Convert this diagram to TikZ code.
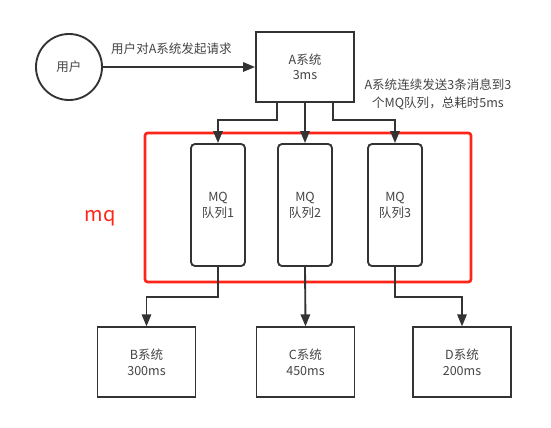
\documentclass[tikz,border=0pt]{standalone}
\usepackage{fontspec}
\newfontfamily\cjk{Noto Sans CJK SC}
\usetikzlibrary{arrows.meta}
\definecolor{linegray}{HTML}{333333}
\definecolor{textgray}{HTML}{444444}
\definecolor{mqred}{HTML}{FF2418}

\begin{document}
\begin{tikzpicture}[x=0.75pt,y=-0.75pt,
  every node/.style={font=\cjk\fontsize{9.4}{12}\selectfont, text=textgray},
  sysbox/.style={draw=linegray, line width=1.4pt, minimum width=73.5pt, minimum height=52pt, align=center},
  queuebox/.style={draw=linegray, line width=1.4pt, rounded corners=3pt, minimum width=40.5pt, minimum height=91.5pt, align=center},
  link/.style={draw=linegray, line width=1.4pt, -{Triangle[length=9pt,width=7pt]}}]
\useasboundingbox (0,0) rectangle (551,428);
\node[circle, draw=linegray, line width=1.4pt, minimum size=49.5pt] (user) at (69,67) {用户};
\node[sysbox, font=\cjk\fontsize{9.4}{11.25}\selectfont] (A) at (305,67) {A系统\\3ms};
\node[align=center, font=\cjk\fontsize{9.4}{13.5}\selectfont] (note) at (438,94) {A系统连续发送3条消息到3\\个MQ队列，总耗时5ms};
\draw[mqred, line width=2pt, rounded corners=2pt] (145,133) rectangle (471,282);
\node[text=mqred, font=\cjk\fontsize{15}{18}\selectfont] (mqlabel) at (100,218) {mq};
\foreach \i/\x in {1/218,2/305,3/395}
  \node[queuebox] (q\i) at (\x,205) {MQ\\队列\i};
\node[sysbox] (B) at (146.5,362) {B系统\\300ms};
\node[sysbox] (C) at (305.5,362) {C系统\\450ms};
\node[sysbox] (D) at (462,362) {D系统\\200ms};
\coordinate (fork) at (305,120);
\coordinate (merge) at (305,297);
\draw[link] (user) -- (A) node[pos=0.45, yshift=14pt] (ask) {用户对A系统发起请求};
\draw[link] ([xshift=-21pt]A.south) |- (fork -| q1) -- (q1.north);
\draw[link] (A.south) -- (q2.north);
\draw[link] ([xshift=21pt]A.south) |- (fork -| q3) -- (q3.north);
\draw[link] (q1.south) |- (merge -| B) -- (B.north);
\draw[link] (q2.south) -- (C.north);
\draw[link] (q3.south) |- (merge -| D) -- (D.north);
\end{tikzpicture}
\end{document}
